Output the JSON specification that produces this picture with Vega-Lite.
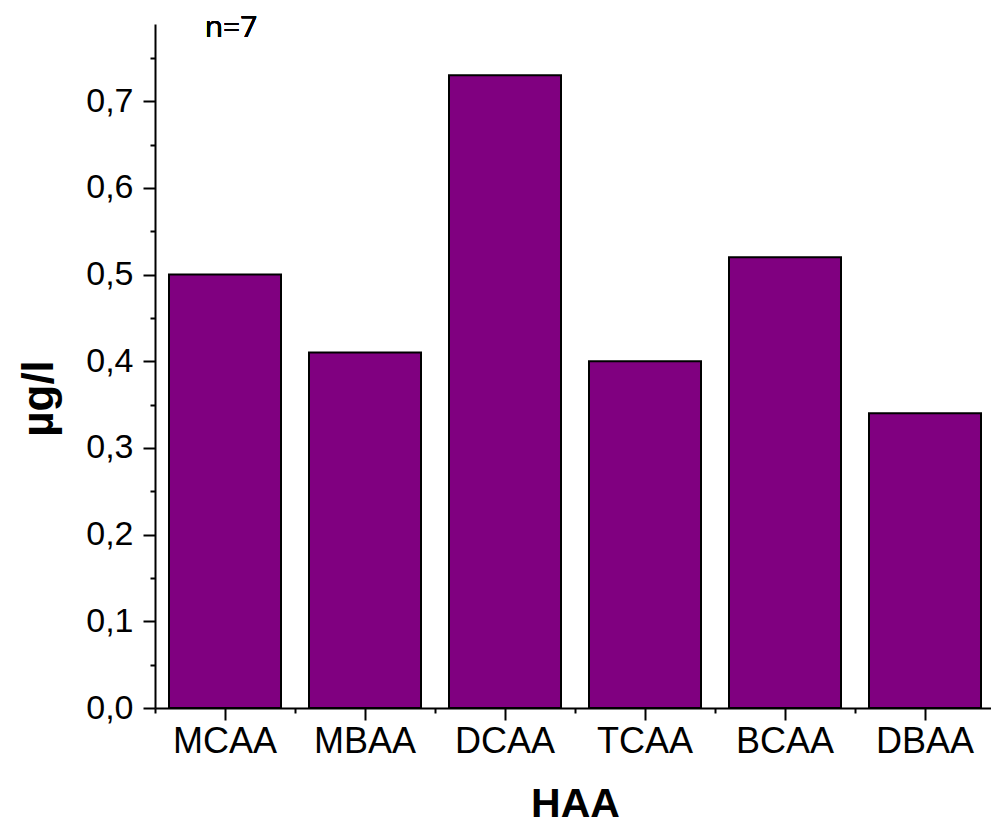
{
  "$schema": "https://vega.github.io/schema/vega-lite/v6.json",
  "autosize": {"type": "none"},
  "width": 840,
  "height": 684,
  "padding": {"left": 155, "top": 24, "right": 0, "bottom": 122},
  "background": "white",
  "config": {
    "view": {"stroke": null},
    "font": "Liberation Sans",
    "axis": {"grid": false, "domainColor": "black", "tickColor": "black", "domainWidth": 2, "tickWidth": 2, "labelColor": "black", "titleColor": "black", "labelFont": "Liberation Sans", "titleFont": "Liberation Sans"}
  },
  "data": {
    "values": [
      {"compound": "MCAA", "value": 0.50},
      {"compound": "MBAA", "value": 0.41},
      {"compound": "DCAA", "value": 0.73},
      {"compound": "TCAA", "value": 0.40},
      {"compound": "BCAA", "value": 0.52},
      {"compound": "DBAA", "value": 0.34}
    ]
  },
  "layer": [
    {
      "mark": {"type": "bar", "fill": "#800080", "stroke": "black", "strokeWidth": 2},
      "encoding": {
        "x": {
          "field": "compound", "type": "nominal", "sort": null,
          "scale": {"paddingInner": 0.2, "paddingOuter": 0.1},
          "axis": {"orient": "bottom", "labelAngle": 0, "labelFontSize": 36, "labelPadding": 4, "tickSize": 12, "title": "HAA", "titleFontSize": 41, "titleFontWeight": "bold", "titlePadding": 25}
        },
        "y": {
          "field": "value", "type": "quantitative",
          "scale": {"domain": [0, 0.789], "nice": false, "zero": true},
          "axis": {"orient": "left", "values": [0, 0.1, 0.2, 0.3, 0.4, 0.5, 0.6, 0.7], "labelExpr": "replace(format(datum.value, '.1f'), '.', ',')", "labelFontSize": 34, "labelPadding": 10, "tickSize": 12, "title": "µg/l", "titleFontSize": 44, "titleFontWeight": "bold", "titlePadding": 24, "titleY": 374}
        }
      }
    },
    {
      "mark": {"type": "bar", "opacity": 0},
      "encoding": {
        "x": {
          "field": "compound", "type": "nominal", "sort": null,
          "axis": {"orient": "bottom", "bandPosition": -0.125, "labels": false, "domain": false, "tickSize": 5, "title": null}
        },
        "y": {
          "field": "value", "type": "quantitative",
          "axis": {"orient": "left", "values": [0.05, 0.15, 0.25, 0.35, 0.45, 0.55, 0.65, 0.75], "labels": false, "domain": false, "tickSize": 5, "title": null}
        }
      }
    },
    {
      "mark": {"type": "text", "text": "n=7", "font": "Open Sans", "fontSize": 30, "align": "center", "baseline": "alphabetic", "dx": 6, "color": "black"},
      "encoding": {
        "x": {"datum": "MCAA", "type": "nominal", "axis": null},
        "y": {"datum": 0.774, "type": "quantitative", "axis": null}
      }
    }
  ],
  "resolve": {"axis": {"x": "independent", "y": "independent"}}
}
